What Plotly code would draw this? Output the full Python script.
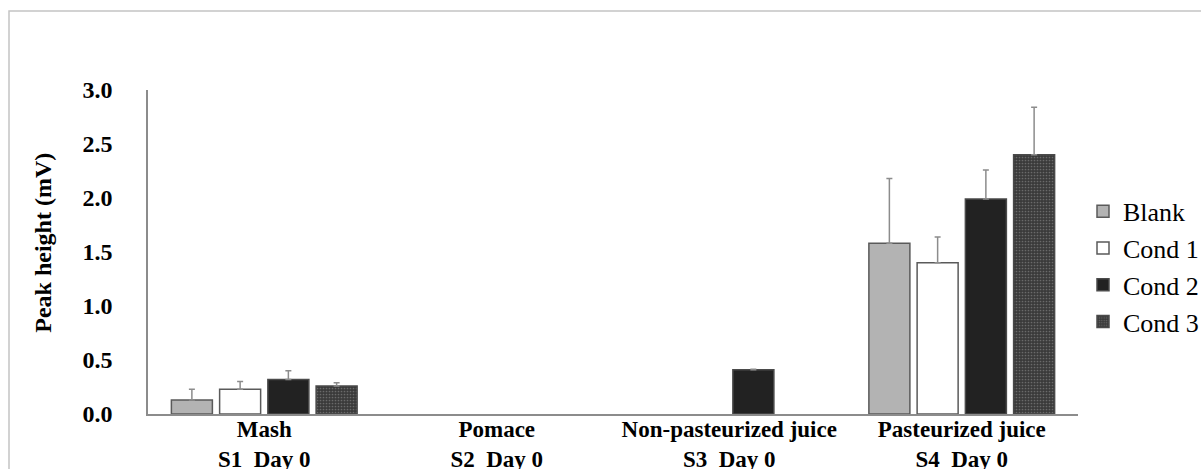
import plotly.graph_objects as go

# Sample groups (two-line axis labels)
categories = [
    "Mash<br>S1\u00a0 Day 0",
    "Pomace<br>S2\u00a0 Day 0",
    "Non-pasteurized juice<br>S3\u00a0 Day 0",
    "Pasteurized juice<br>S4\u00a0 Day 0",
]

# Peak heights (mV) per condition; None = no peak
blank = [0.13, None, None, 1.58]
cond1 = [0.23, None, None, 1.40]
cond2 = [0.32, None, 0.41, 1.99]
cond3 = [0.26, None, None, 2.40]

# Standard deviations (upper error bars)
blank_sd = [0.10, 0, 0, 0.60]
cond1_sd = [0.07, 0, 0, 0.24]
cond2_sd = [0.08, 0, 0.005, 0.27]
cond3_sd = [0.03, 0, 0, 0.44]

serif = "Times New Roman, Liberation Serif, DejaVu Serif, serif"

W, H = 1201, 469
L, R, T, B = 148, 1078, 90, 414.5
pw, ph = R - L, B - T


def px_x(x):
    return (x - L) / pw


def px_y(y):
    return (B - y) / ph


def err(sd):
    return dict(type="data", array=sd, arrayminus=[0] * len(sd), symmetric=False,
                color="#8c8c8c", thickness=1.5, width=3)


fig = go.Figure()
fig.add_trace(go.Bar(name="Blank", x=categories, y=blank, error_y=err(blank_sd),
                     marker=dict(color="#b3b3b3", line=dict(color="#5a5a5a", width=1.5))))
fig.add_trace(go.Bar(name="Cond 1", x=categories, y=cond1, error_y=err(cond1_sd),
                     marker=dict(color="#ffffff", line=dict(color="#5a5a5a", width=1.5))))
fig.add_trace(go.Bar(name="Cond 2", x=categories, y=cond2, error_y=err(cond2_sd),
                     marker=dict(color="#222222", line=dict(color="#4a4a4a", width=1.5))))
fig.add_trace(go.Bar(name="Cond 3", x=categories, y=cond3, error_y=err(cond3_sd),
                     marker=dict(color="#3c3c3c",
                                 pattern=dict(shape=".", fgcolor="#9a9a9a", bgcolor="#3a3a3a",
                                              size=3, solidity=0.25),
                                 line=dict(color="#4a4a4a", width=1.5))))

fig.update_layout(
    width=W, height=H,
    margin=dict(l=L, r=W - R, t=T, b=H - B, autoexpand=False),
    paper_bgcolor="white", plot_bgcolor="white",
    barmode="group", bargap=0.17, bargroupgap=0.15,
    font=dict(family=serif, color="black"),
    showlegend=True,
    legend=dict(x=px_x(1083), xanchor="left", y=px_y(267), yanchor="middle",
                font=dict(family=serif, size=26, color="black"),
                bgcolor="rgba(0,0,0,0)", itemwidth=30),
    shapes=[dict(type="rect", xref="paper", yref="paper",
                 x0=px_x(9), x1=px_x(1400), y0=px_y(11), y1=px_y(700),
                 line=dict(color="#c4c4c4", width=1.5), fillcolor="rgba(0,0,0,0)",
                 layer="below")],
    annotations=[dict(text="<b>Peak height (mV)</b>", xref="paper", yref="paper",
                      x=px_x(43), y=px_y(243), textangle=-90, showarrow=False,
                      xanchor="center", yanchor="middle",
                      font=dict(family=serif, size=24, color="black"))],
)

fig.update_xaxes(showline=True, linecolor="#8c8c8c", linewidth=1.5, showgrid=False,
                 ticks="", ticklabelstandoff=-6,
                 tickfont=dict(family=serif, size=23, color="black", weight="bold"))
fig.update_yaxes(range=[0, 3], dtick=0.5, tickformat=".1f", showline=True,
                 linecolor="#8c8c8c", linewidth=1.5, showgrid=False, zeroline=False,
                 ticks="", ticklabelstandoff=29,
                 tickfont=dict(family=serif, size=24, color="black", weight="bold"))

fig.write_html("out.html")
